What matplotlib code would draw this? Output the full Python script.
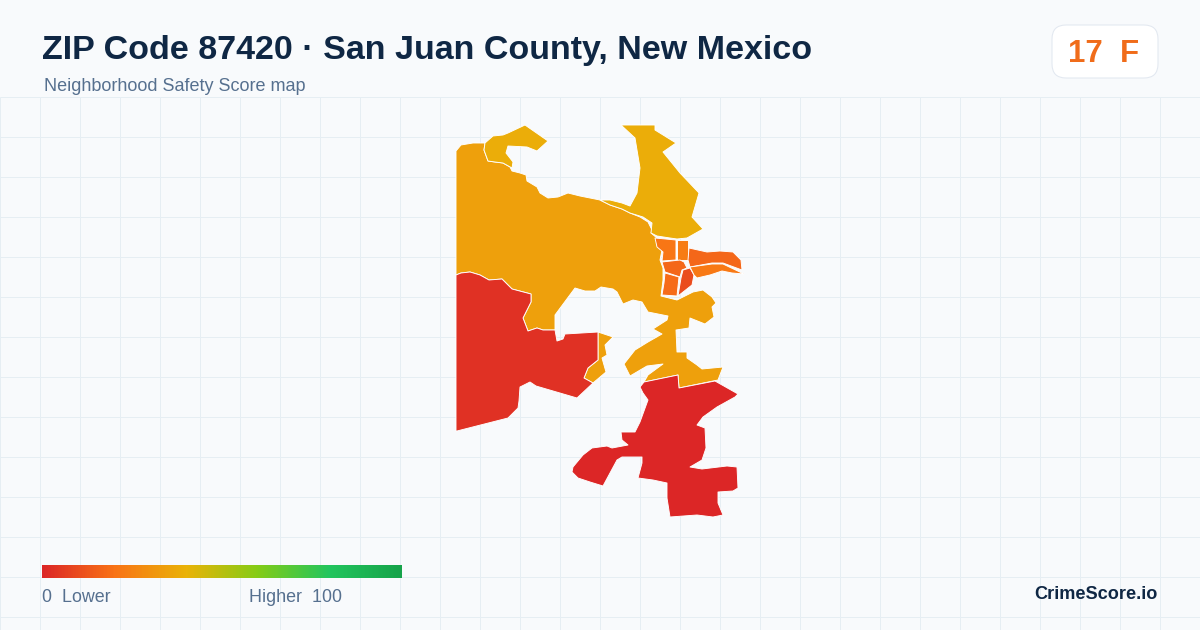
import numpy as np
import matplotlib
matplotlib.use("Agg")
import matplotlib.pyplot as plt
from matplotlib.colors import LinearSegmentedColormap
from matplotlib.patches import FancyBboxPatch, Polygon

plt.rcParams['font.family'] = ['Liberation Sans', 'DejaVu Sans']

# Map outlines (x, y in picture pixels)
main_area = [(456,151),(461,145),(473,143),(485,143),(484,150),(488,161),(495,162),(503,163),(510,167),(512,171),
             (520,173),(526,175),(527,181),(537,187),(540,193),(548,198),(558,197),(568,193),(580,196),(590,198),
             (600,200),(610,205),(622,209),(630,213),(640,217),(648,222),(652,230),(651,233),(657,238),(657,246),
             (662,250),(660,260),(663,268),(663,280),(661,296),(677,300),(693,292),(703,290),(712,297),(716,303),
             (712,307),(714,317),(705,324),(690,318),(689,328),(676,330),(677,352),(687,352),(687,358),(697,365),
             (702,369),(723,367),(718,380),(679,388),(678,375),(644,382),(648,375),(663,364),(647,366),(630,376),
             (624,364),(635,350),(648,342),(662,334),(653,329),(667,320),(668,316),(648,312),(642,302),(633,300),
             (623,304),(617,292),(613,289),(601,287),(595,291),(585,291),(575,288),(555,315),(555,330),(543,330),
             (537,328),(528,331),(523,318),(531,302),(531,294),(512,289),(508,285),(502,279),(489,280),(480,275),
             (470,272),(461,273),(456,275)]
small_area = [(598,332),(613,337),(605,345),(607,355),(602,358),(606,372),(593,383),(584,378),(588,368),(598,360)]
west_area = [(456,275),(461,273),(470,272),(480,275),(489,280),(502,279),(508,285),(512,289),(531,294),(531,302),
             (523,318),(528,331),(537,328),(543,330),(555,330),(557,341),(563,339),(565,334),(598,332),(598,360),
             (588,368),(584,378),(593,383),(577,398),(536,386),(530,382),(520,387),(519,401),(518,408),(508,418),
             (457,431),(456,431)]
south_area = [(644,382),(678,375),(679,388),(715,381),(738,394),(735,397),(717,407),(703,417),(697,425),(705,428),
              (706,448),(702,460),(690,467),(702,469),(727,466),(737,467),(738,488),(733,491),(718,492),(718,503),
              (723,515),(713,517),(697,515),(670,517),(667,498),(667,483),(653,480),(638,478),(642,463),(642,457),
              (622,457),(617,460),(603,486),(590,482),(578,478),(572,472),(573,467),(583,455),(592,448),(607,446),
              (612,448),(628,445),(622,440),(621,432),(635,432),(640,422),(648,400),(643,393),(640,387)]
north_area = [(621,125),(655,125),(655,130),(676,143),(663,152),(680,173),(699,193),(692,217),(703,229),(687,238),
              (677,239),(670,238),(657,236),(651,233),(652,223),(643,217),(630,213),(622,209),(610,205),(600,200),
              (610,200),(622,203),(630,206),(637,193),(640,168),(635,138)]
northwest_area = [(485,143),(493,136),(503,135),(508,133),(525,125),(548,141),(537,151),(527,147),(508,146),(506,153),
                  (513,162),(512,168),(503,163),(495,162),(488,161),(484,150)]
tile_a = [(655,238),(676,240),(676,260),(662,261),(663,252),(657,247)]
tile_b = [(677,240),(688,240),(688,248),(688,260),(677,260)]
tile_c = [(662,262),(680,260),(684,262),(687,268),(682,270),(680,277),(665,272)]
tile_d = [(665,273),(679,277),(677,296),(662,295),(664,283)]
tile_e = [(683,270),(690,268),(694,275),(692,285),(678,296),(681,278)]
tile_f = [(689,248),(707,252),(720,251),(733,252),(741,260),(742,270),(723,263),(712,263),(690,267),(688,260)]
tile_g = [(690,267),(712,264),(723,264),(744,274),(732,273),(722,271),(710,275),(697,278),(694,275)]

areas = [main_area, small_area, west_area, south_area, north_area, northwest_area,
         tile_a, tile_b, tile_c, tile_d, tile_e, tile_f, tile_g]
scores = [34, 34, 3, 0, 38, 38, 21, 23, 17, 18, 10, 17, 22]

ramp_colors = ['#dc2626', '#f97316', '#eab308', '#84cc16', '#22c55e', '#16a34a']

title = "ZIP Code 87420 · San Juan County, New Mexico"
subtitle = "Neighborhood Safety Score map"
badge_text = "17  F"
brand = "CrimeScore.io"

cmap = LinearSegmentedColormap.from_list('safety', ramp_colors)

fig = plt.figure(figsize=(12, 6.3), dpi=100, facecolor='#f8fafc')
ax = fig.add_axes([0, 0, 1, 1])
ax.set_xlim(0, 1200)
ax.set_ylim(630, 0)
ax.axis('off')

# background grid
ax.vlines(np.arange(0, 1200, 40), 96.5, 630, color='#e6eef3', lw=0.72, zorder=1)
ax.hlines(np.arange(96.5, 630, 40), 0, 1200, color='#e6eef3', lw=0.72, zorder=1)

for area, score in zip(areas, scores):
    ax.add_patch(Polygon(area, closed=True, facecolor=cmap(score / 100), edgecolor='white', lw=0.65,
                         joinstyle='round', zorder=3))

# header
ax.text(42, 50, title, fontsize=24.5, fontweight='bold', color='#0f2744', va='center', ha='left', zorder=5)
ax.text(44, 86.5, subtitle, fontsize=13, color='#56708f', va='center', ha='left', zorder=5)

# score badge
ax.add_patch(FancyBboxPatch((1052, 25), 106, 53, boxstyle='round,pad=0,rounding_size=14',
                            facecolor='white', edgecolor='#e2e8f0', lw=0.75, zorder=4))
ax.text(1104, 54.5, badge_text, fontsize=22.5, fontweight='bold', color='#f06c1a', va='center', ha='center', zorder=5)

# legend ramp
ramp = np.linspace(0, 1, 360).reshape(1, -1)
ax.imshow(ramp, cmap=cmap, extent=(42, 402, 578, 565), aspect='auto', zorder=4)
ax.set_xlim(0, 1200)
ax.set_ylim(630, 0)
ax.text(42, 598, "0  Lower", fontsize=12.9, color='#56708f', va='center', ha='left', zorder=5)
ax.text(249, 598, "Higher  100", fontsize=12.9, color='#56708f', va='center', ha='left', zorder=5)

ax.text(1158, 594.5, brand, fontsize=13.1, fontweight='bold', color='#0f2744', va='center', ha='right', zorder=5)

fig.savefig('out.png', dpi=100, facecolor=fig.get_facecolor())
